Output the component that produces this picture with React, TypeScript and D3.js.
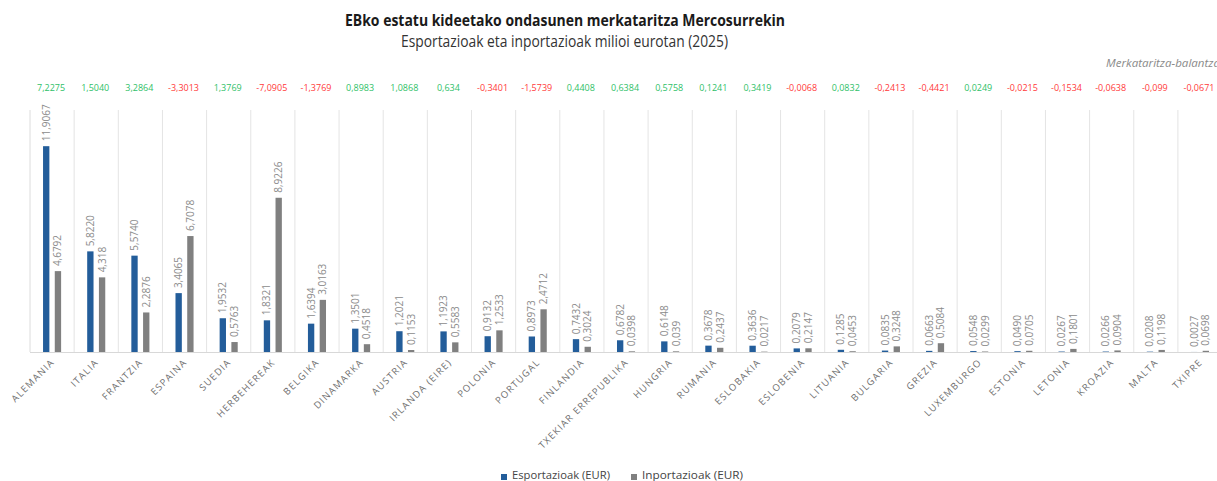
import React from "react";
import * as d3 from "d3";

const categories = [
  "ALEMANIA", "ITALIA", "FRANTZIA", "ESPAINA", "SUEDIA", "HERBEHEREAK", "BELGIKA",
  "DINAMARKA", "AUSTRIA", "IRLANDA (EIRE)", "POLONIA", "PORTUGAL", "FINLANDIA",
  "TXEKIAR ERREPUBLIKA", "HUNGRIA", "RUMANIA", "ESLOBAKIA", "ESLOBENIA", "LITUANIA",
  "BULGARIA", "GREZIA", "LUXEMBURGO", "ESTONIA", "LETONIA", "KROAZIA", "MALTA", "TXIPRE",
];

const exportLabels = [
  "11,9067", "5,8220", "5,5740", "3,4065", "1,9532", "1,8321", "1,6394",
  "1,3501", "1,2021", "1,1923", "0,9132", "0,8973", "0,7432",
  "0,6782", "0,6148", "0,3678", "0,3636", "0,2079", "0,1285",
  "0,0835", "0,0663", "0,0548", "0,0490", "0,0267", "0,0266", "0,0208", "0,0027",
];

const importLabels = [
  "4,6792", "4,318", "2,2876", "6,7078", "0,5763", "8,9226", "3,0163",
  "0,4518", "0,1153", "0,5583", "1,2533", "2,4712", "0,3024",
  "0,0398", "0,039", "0,2437", "0,0217", "0,2147", "0,0453",
  "0,3248", "0,5084", "0,0299", "0,0705", "0,1801", "0,0904", "0,1198", "0,0698",
];

const balanceLabels = [
  "7,2275", "1,5040", "3,2864", "-3,3013", "1,3769", "-7,0905", "-1,3769",
  "0,8983", "1,0868", "0,634", "-0,3401", "-1,5739", "0,4408",
  "0,6384", "0,5758", "0,1241", "0,3419", "-0,0068", "0,0832",
  "-0,2413", "-0,4421", "0,0249", "-0,0215", "-0,1534", "-0,0638", "-0,099", "-0,0671",
];

const seriesNames = ["Esportazioak (EUR)", "Inportazioak (EUR)"];
const yDomain = [0, 14];

const num = (s: string) => parseFloat(s.replace(",", "."));

const W = 1217;
const H = 481;
const plotLeft = 30;
const bandW = 44.15;
const plotTop = 110;
const baseY = 352;
const FONT = "'Open Sans', sans-serif";
const colors = ["#235d9a", "#808080"];

export default function App() {
  const x = d3
    .scaleBand<string>()
    .domain(categories)
    .range([plotLeft, plotLeft + bandW * categories.length])
    .padding(0);
  const bw = x.bandwidth();
  const inner = d3
    .scaleBand<string>()
    .domain(["exp", "imp"])
    .range([bw / 2 - 12.2, bw / 2 + 12.2])
    .paddingInner(0.46)
    .paddingOuter(0.27);
  const y = d3.scaleLinear().domain(yDomain).range([baseY, plotTop]);

  const rows = categories.map((c, i) => ({
    cat: c,
    vals: [
      { key: "exp", label: exportLabels[i], v: num(exportLabels[i]) },
      { key: "imp", label: importLabels[i], v: num(importLabels[i]) },
    ],
    bal: balanceLabels[i],
  }));

  const boundaries = [...categories.map((c) => x(c)!), plotLeft + bandW * categories.length];

  return (
    <svg
      width={W}
      height={H}
      style={{ position: "absolute", left: 0, top: 0, fontFamily: FONT }}
    >
      <rect width={W} height={H} fill="#fff" />
      <text
        x={565}
        y={26}
        textAnchor="middle"
        fontSize={16}
        fontWeight={700}
        fill="#1a1a1a"
        textLength={440}
        lengthAdjust="spacingAndGlyphs"
      >
        EBko estatu kideetako ondasunen merkataritza Mercosurrekin
      </text>
      <text
        x={564.5}
        y={47}
        textAnchor="middle"
        fontSize={15.5}
        fill="#333"
        textLength={327}
        lengthAdjust="spacingAndGlyphs"
      >
        Esportazioak eta inportazioak milioi eurotan (2025)
      </text>
      <text
        x={1106}
        y={67}
        fontSize={11}
        fontStyle="italic"
        fill="#8a8a8a"
        textLength={114}
        lengthAdjust="spacingAndGlyphs"
      >
        Merkataritza-balantza
      </text>

      {boundaries.map((bx, i) => (
        <line
          key={"g" + i}
          x1={bx}
          x2={bx}
          y1={plotTop}
          y2={baseY}
          stroke={i === 0 ? "#dcdcdc" : "#e4e4e4"}
          strokeWidth={1}
        />
      ))}
      <line x1={plotLeft} x2={W} y1={baseY + 0.5} y2={baseY + 0.5} stroke="#d8d8d8" strokeWidth={1} />

      {rows.map((r) => {
        const cx = x(r.cat)! + bw / 2;
        const b = num(r.bal);
        return (
          <g key={r.cat}>
            <text
              x={cx - 1}
              y={91}
              textAnchor="middle"
              fontSize={9}
              fill={b < 0 ? "#ff3a3a" : "#2fbf68"}
            >
              {r.bal}
            </text>
            {r.vals.map((d, j) => {
              const bx = x(r.cat)! + inner(d.key)!;
              const top = y(d.v);
              const lx = bx + inner.bandwidth() / 2;
              return (
                <g key={d.key}>
                  <rect
                    x={bx}
                    y={top}
                    width={inner.bandwidth()}
                    height={baseY - top}
                    fill={colors[j]}
                  />
                  <text
                    transform={`translate(${lx},${top - 5}) rotate(-90)`}
                    dy="0.35em"
                    fontSize={10}
                    fill="#8c8c8c"
                  >
                    {d.label}
                  </text>
                </g>
              );
            })}
            <text
              transform={`translate(${cx + 3},${363}) rotate(-45)`}
              textAnchor="end"
              fontSize={9.5}
              letterSpacing={1.2}
              fill="#6e6e6e"
            >
              {r.cat}
            </text>
          </g>
        );
      })}

      {seriesNames.map((s, i) => {
        const lx = i === 0 ? 501 : 631;
        return (
          <g key={s}>
            <rect x={lx} y={474} width={6} height={6} fill={colors[i]} />
            <text x={lx + 11} y={479} fontSize={11.5} fill="#444" textLength={i === 0 ? 98 : 101} lengthAdjust="spacingAndGlyphs">
              {s}
            </text>
          </g>
        );
      })}
    </svg>
  );
}
